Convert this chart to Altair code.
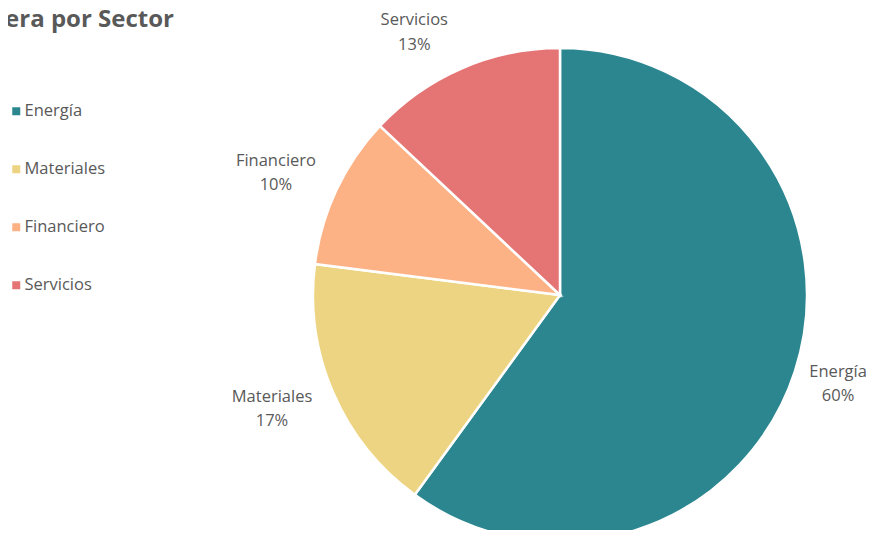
import altair as alt
import pandas as pd

titulo = "Cartera por Sector"
sectores = ["Energía", "Materiales", "Financiero", "Servicios"]
valores = [60, 17, 10, 13]
colores = ["#2B8690", "#EDD482", "#FDB286", "#E57474"]

df = pd.DataFrame({"sector": sectores, "valor": valores, "orden": list(range(len(sectores)))})

CX, CY, R = 552, 287, 247
FONT = "Open Sans"
GRIS = "#595959"

color = alt.Color(
    "sector:N",
    scale=alt.Scale(domain=sectores, range=colores),
    legend=alt.Legend(
        title=None, orient="none", legendX=0, legendY=95,
        symbolType="square", symbolSize=64, symbolStrokeWidth=0,
        labelFontSize=16.5, labelFont=FONT, labelColor=GRIS,
        rowPadding=41, labelOffset=0,
    ),
)

base = alt.Chart(df).encode(
    theta=alt.Theta("valor:Q", stack=True),
    order=alt.Order("orden:Q"),
)

arcs = base.mark_arc(radius=R, stroke="white", strokeWidth=2.5).encode(
    color=color, x=alt.value(CX), y=alt.value(CY)
)

# label nudges (style only) to follow the reference's label placement
ajustes = {"Energía": (-11, -17), "Materiales": (-9, -19), "Financiero": (-9, -5), "Servicios": (-25, 4)}

capas_texto = []
for s in sectores:
    dx, dy = ajustes[s]
    capas_texto.append(
        base.transform_calculate(
            etiqueta="datum.sector + '\\n' + datum.valor + '%'"
        ).mark_text(
            radius=304, fontSize=16.5, font=FONT, color=GRIS,
            lineBreak="\n", lineHeight=24.5, baseline="middle", align="center",
            dx=dx, dy=dy,
        ).encode(
            text=alt.condition(alt.datum.sector == s, "etiqueta:N", alt.value("")),
            x=alt.value(CX), y=alt.value(CY),
        )
    )

title = alt.Chart(pd.DataFrame({"t": [titulo]})).mark_text(
    align="right", baseline="alphabetic", fontSize=24, fontWeight="bold",
    font=FONT, color=GRIS,
).encode(text="t:N", x=alt.value(166), y=alt.value(19))

chart = alt.layer(arcs, *capas_texto, title).properties(
    width=861, height=522, autosize=alt.AutoSizeParams(type="none"), padding=0
).configure_view(stroke=None)

chart.save("out.html", embed_options={"renderer": "svg", "actions": False})
